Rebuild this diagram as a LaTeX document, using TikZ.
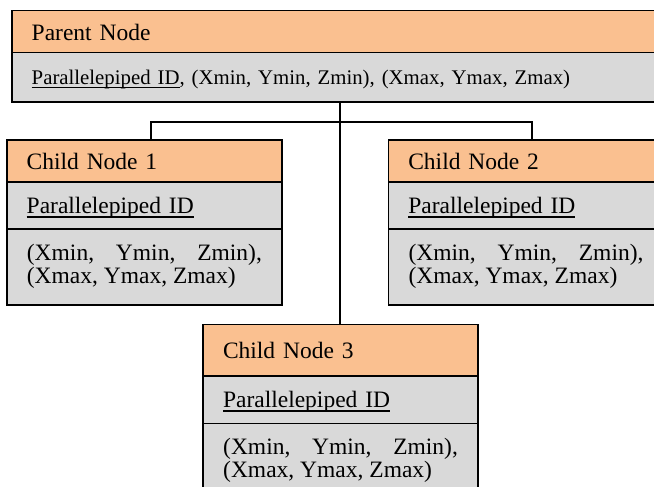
\documentclass[tikz,border=0pt]{standalone}
\usepackage{fontspec}
\setmainfont{Liberation Serif}
\usetikzlibrary{positioning}
\definecolor{myorange}{HTML}{FAC090}
\definecolor{mygray}{HTML}{D9D9D9}
\newcommand{\ulid}[1]{\setbox0\hbox{#1}\rlap{\rule[-4pt]{\wd0}{1.4pt}}\box0}

\begin{document}
\begin{tikzpicture}[x=1pt,y=-1pt,
    sect/.style={draw=black,line width=1.6pt,anchor=north west,outer sep=0pt,
      inner ysep=0pt,inner xsep=20pt,align=left,font=\fontsize{23.5}{26}\selectfont},
    head/.style={sect,fill=myorange,text width=#1,text height=17pt,text depth=0pt},
    idbox/.style={sect,fill=mygray,text width=#1,text height=16pt,text depth=0pt},
    xyzbox/.style={sect,fill=mygray,text width=#1},
    xyztext/.style={anchor=north west,inner sep=0pt,text width=#1,align=justify,
      font=\fontsize{23.5}{22.7}\selectfont},
    conn/.style={line width=1.8pt}]
    % page
    \clip (0,0) rectangle (654,487);

    % parent
    \node[head=620pt,minimum height=42pt] (phead) at (11.7,10.7) {Parent Node};
    \node[idbox=620pt,minimum height=49.6pt,font=\fontsize{20.8}{24}\selectfont,
      text height=14pt] (pbody) at (phead.south west)
      {\ulid{Parallelepiped ID}, (Xmin, Ymin, Zmin), (Xmax, Ymax, Zmax)};

    % child 1
    \node[head=235pt,minimum height=42pt] (c1head) at (6.7,140) {Child Node 1};
    \node[idbox=235pt,minimum height=47pt] (c1id) at (c1head.south west) {\ulid{Parallelepiped ID}};
    \node[xyzbox=235pt,minimum height=76pt] (c1xyz) at (c1id.south west) {};
    \node[xyztext=235pt] (c1text) at ([shift={(20,15)}]c1xyz.north west)
      {(Xmin,\hfill Ymin,\hfill Zmin),\\(Xmax, Ymax, Zmax)};

    % child 2
    \node[head=235pt,minimum height=42pt] (c2head) at (388.3,140) {Child Node 2};
    \node[idbox=235pt,minimum height=47pt] (c2id) at (c2head.south west) {\ulid{Parallelepiped ID}};
    \node[xyzbox=235pt,minimum height=76pt] (c2xyz) at (c2id.south west) {};
    \node[xyztext=235pt] (c2text) at ([shift={(20,15)}]c2xyz.north west)
      {(Xmin,\hfill Ymin,\hfill Zmin),\\(Xmax, Ymax, Zmax)};

    % child 3
    \node[head=234.7pt,minimum height=51.7pt] (c3head) at (203,324.3) {Child Node 3};
    \node[idbox=234.7pt,minimum height=47.3pt] (c3id) at (c3head.south west) {\ulid{Parallelepiped ID}};
    \node[xyzbox=234.7pt,minimum height=80pt] (c3xyz) at (c3id.south west) {};
    \node[xyztext=234.7pt] (c3text) at ([shift={(20,15)}]c3xyz.north west)
      {(Xmin,\hfill Ymin,\hfill Zmin),\\(Xmax, Ymax, Zmax)};

    % links
    \coordinate (bus) at (341.7,122.3);
    \draw[conn] (pbody.south -| c3head.north) -- (c3head.north);
    \draw[conn] ([xshift=6.5pt]c1head.north) |- (bus) -| ([xshift=6pt]c2head.north);
\end{tikzpicture}
\end{document}
